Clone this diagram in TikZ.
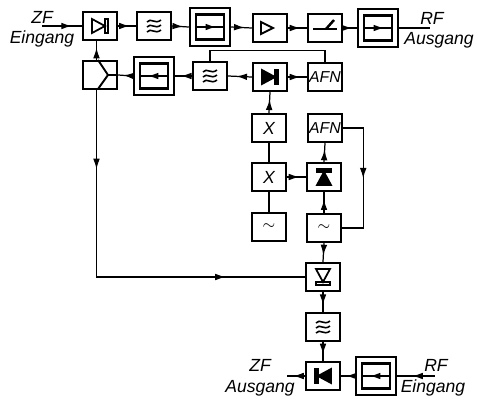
\documentclass[tikz,border=0pt]{standalone}
\usepackage{fontspec}
\setmainfont{Liberation Sans}
\usetikzlibrary{positioning,arrows.meta,calc,decorations.markings}

\tikzset{
  blockbox/.style={draw, line width=1.4pt, minimum width=.68cm, minimum height=.56cm, inner sep=0pt, font=\small\itshape},
  isobox/.style={draw, line width=1.4pt, minimum width=.80cm, minimum height=.76cm, inner sep=0pt},
  isoinner/.style={draw, line width=1.4pt, minimum width=.56cm, minimum height=.50cm, inner sep=0pt},
  lbl/.style={font=\itshape, inner sep=0pt},
  wire/.style={line width=.7pt},
  flowmid/.style={wire, postaction={decorate}, decoration={markings, mark=at position #1 with {\arrow{Latex[length=6pt,width=3.8pt]}}}},
  flowmid/.default=.65,
  pics/mixersym/.style={code={
    \draw[line width=1pt, pic actions] (-8,-7) -- (5,0) -- (-8,7) -- cycle;
    \draw[line width=1pt, pic actions] (5,-7) rectangle (8,7);
  }},
  pics/filtersym/.style={code={
    \foreach \yy in {-5,0,5}
      \draw[line width=.9pt] (-7,\yy+1) .. controls (-3,\yy-4) and (1,\yy+4) .. (7,\yy-1);
  }}
}

\begin{document}
\begin{tikzpicture}[x=.02cm, y=-.02cm]
\useasboundingbox (0,0) rectangle (478,407);
% upper chain
\node[blockbox] (mixa) at (100,26) {};
\node[blockbox] (flta) at (154,26) {};
\node[isobox] (isoa) at (210,27) {};
\node[isoinner] (isoai) at (210,27) {};
\node[blockbox] (ampa) at (270,28) {};
\node[blockbox] (atta) at (325,28) {};
\node[isobox] (isob) at (378,28) {};
\node[isoinner] (isobi) at (378,28) {};
% second row
\node[blockbox] (spl) at (100,75) {};
\node[isobox] (isoc) at (154,76) {};
\node[isoinner] (isoci) at (154,76) {};
\node[blockbox] (fltb) at (210,76) {};
\node[blockbox] (mixb) at (270,77) {};
\node[blockbox] (afna) at (325,77) {AFN};
% oscillator part
\node[blockbox] (mula) at (269,128) {\normalsize$\mathit{X}$};
\node[blockbox] (afnb) at (325,128) {AFN};
\node[blockbox] (mulb) at (269,177) {\normalsize$\mathit{X}$};
\node[blockbox] (mixc) at (324,177) {};
\node[blockbox] (osca) at (269,227) {$\sim$};
\node[blockbox] (oscb) at (324,228) {$\sim$};
% lower chain
\node[blockbox] (mixd) at (323,277) {};
\node[blockbox] (fltc) at (323,327) {};
\node[blockbox] (mixe) at (323,376) {};
\node[isobox] (isod) at (376,376) {};
\node[isoinner] (isodi) at (376,376) {};
% symbols
\pic at (mixa) {mixersym};
\pic[fill=black] at (mixb) {mixersym};
\pic[rotate=90, fill=black] at (mixc) {mixersym};
\pic[rotate=-90] at (mixd) {mixersym};
\pic[rotate=180, fill=black] at (mixe) {mixersym};
\pic at (flta) {filtersym};
\pic at (fltb) {filtersym};
\pic at (fltc) {filtersym};
\draw[line width=1.1pt] (261,22) -- (273,28) -- (261,34) -- cycle;
\draw[line width=.8pt] (313,29) -- (337,29);
\draw[line width=1.4pt] (326,29) -- (334,20);
\draw[line width=1.1pt] (98,60) -- (108,75) -- (117,75);
\draw[line width=1.1pt] (98,89) -- (108,75);
% isolator arrows
\draw[flowmid=.7] (isoai.west) -- (isoai.east);
\draw[flowmid=.7] (isobi.west) -- (isobi.east);
\draw[flowmid=.7] (isoci.east) -- (isoci.west);
\draw[flowmid=.7] (isodi.east) -- (isodi.west);
% labels
\node[lbl] (zfa) at (42,17) {ZF};
\node[lbl] (eina) at (42,39) {Eingang};
\node[lbl] (rfa) at (432,18) {RF};
\node[lbl] (ausa) at (439,40) {Ausgang};
\node[lbl] (zfb) at (260,365) {ZF};
\node[lbl] (ausb) at (260,388) {Ausgang};
\node[lbl] (rfb) at (436,365) {RF};
\node[lbl] (einb) at (433,388) {Eingang};
\coordinate (ina) at (42,26);
\coordinate (outa) at (430,28);
\coordinate (outb) at (287,376);
\coordinate (inb) at (435,376);
% connectors
\draw[flowmid=.75] (ina) -- (mixa.west);
\draw[flowmid] (mixa.east) -- (flta.west);
\draw[flowmid] (flta.east) -- (isoa.west);
\draw[flowmid] (isoa.east) -- (ampa.west);
\draw[flowmid] (ampa.east) -- (atta.west);
\draw[flowmid] (atta.east) -- (isob.west);
\draw[wire] (isob.east) -- (outa);
\draw[flowmid] ([xshift=-2pt]spl.north) -- ([xshift=-2pt]mixa.south);
\draw[flowmid] (fltb.west) -- (isoc.east);
\draw[flowmid] (isoc.west) -- (spl.east);
\draw[flowmid] (mixb.west) -- (fltb.east);
\draw[flowmid] (mixb.east) -- (afna.west);
\draw[wire] (afna.north) |- ($(fltb.north)+(0,-10)$) -- (fltb.north);
\draw[flowmid] (mula.north) -- (mixb.south);
\draw[wire] (mulb.north) -- (mula.south);
\draw[wire] (osca.north) -- (mulb.south);
\draw[flowmid] (mulb.east) -- (mixc.west);
\draw[flowmid] (mixc.north) -- (afnb.south);
\draw[flowmid] (oscb.north) -- (mixc.south);
\draw[flowmid=.5] (afnb.east) -| ($(afnb.east)+(20,50)$) |- (oscb.east);
\draw[flowmid] (oscb.south) -- (mixd.north);
\draw[flowmid] (mixd.south) -- (fltc.north);
\draw[flowmid] (fltc.south) -- (mixe.north);
\draw[flowmid] (mixe.west) -- (outb);
\draw[flowmid] (isod.west) -- (mixe.east);
\draw[flowmid=.6] (inb) -- (isod.east);
\draw[wire, postaction={decorate}, decoration={markings,
    mark=at position .2 with {\arrow{Latex[length=6pt,width=3.8pt]}},
    mark=at position .8 with {\arrow{Latex[length=6pt,width=3.8pt]}}}]
  ([xshift=-2pt]spl.south) |- (mixd.west);
\end{tikzpicture}
\end{document}
